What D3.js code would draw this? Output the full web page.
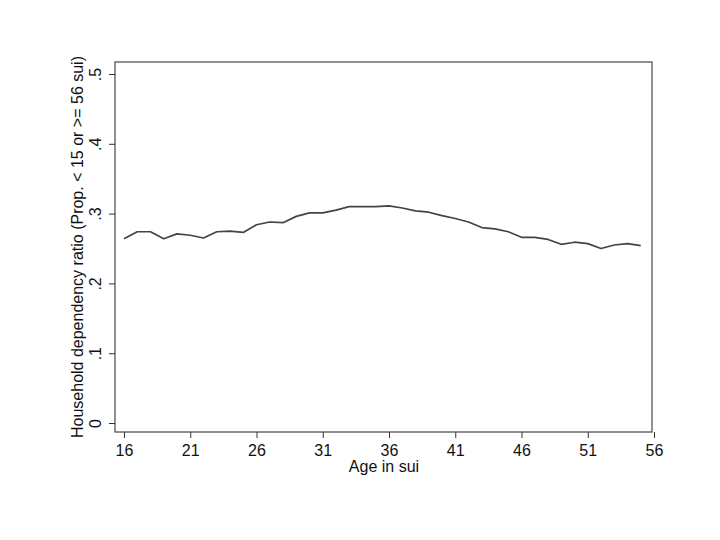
<!DOCTYPE html>
<html>
<head>
<meta charset="utf-8">
<script src="https://cdn.jsdelivr.net/npm/d3@7"></script>
<style>
  html, body { margin: 0; padding: 0; background: #fff; }
  svg { display: block; font-family: "Liberation Sans", Arial, sans-serif; }
</style>
</head>
<body>
<svg id="chart" width="720" height="540"></svg>
<script>
const ages = [16,17,18,19,20,21,22,23,24,25,26,27,28,29,30,31,32,33,34,35,
              36,37,38,39,40,41,42,43,44,45,46,47,48,49,50,51,52,53,54,55];
const ratio = [0.264,0.274,0.274,0.264,0.271,0.269,0.265,0.274,0.275,0.273,
               0.284,0.288,0.287,0.296,0.301,0.301,0.305,0.310,0.310,0.310,
               0.311,0.308,0.304,0.302,0.297,0.293,0.288,0.280,0.278,0.274,
               0.266,0.266,0.263,0.256,0.259,0.257,0.250,0.255,0.257,0.254];
const xTicks = [16,21,26,31,36,41,46,51,56];
const yTicks = [0,0.1,0.2,0.3,0.4,0.5];
const yTickLabels = ["0",".1",".2",".3",".4",".5"];
const xTitle = "Age in sui";
const yTitle = "Household dependency ratio (Prop. < 15 or >= 56 sui)";

const svg = d3.select("#chart");
const box = {left: 115, right: 652, top: 62, bottom: 432};

const x = d3.scaleLinear().domain([16, 56]).range([124, 654]);
const y = d3.scaleLinear().domain([0, 0.5]).range([423, 74]);

// plot box
svg.append("rect")
  .attr("x", box.left).attr("y", box.top)
  .attr("width", box.right - box.left).attr("height", box.bottom - box.top)
  .attr("fill", "none").attr("stroke", "#555").attr("stroke-width", 1.3);

// x axis
const xAxis = d3.axisBottom(x).tickValues(xTicks).tickFormat(d3.format("d"))
  .tickSize(6).tickPadding(7);
const gx = svg.append("g").attr("transform", `translate(0,${box.bottom})`).call(xAxis);
gx.select(".domain").remove();
gx.selectAll(".tick line").attr("stroke", "#333").attr("stroke-width", 1);
gx.selectAll(".tick text").attr("font-size", 16).attr("fill", "#111")
  .attr("font-family", "Liberation Sans, Arial, sans-serif");

// y axis
const yAxis = d3.axisLeft(y).tickValues(yTicks)
  .tickFormat((d, i) => yTickLabels[i]).tickSize(6).tickPadding(0);
const gy = svg.append("g").attr("transform", `translate(${box.left},0)`).call(yAxis);
gy.select(".domain").remove();
gy.selectAll(".tick line").attr("stroke", "#333").attr("stroke-width", 1);
gy.selectAll(".tick text")
  .attr("font-size", 16).attr("fill", "#111")
  .attr("font-family", "Liberation Sans, Arial, sans-serif")
  .attr("text-anchor", "middle").attr("dy", null)
  .attr("x", 0).attr("y", 0)
  .attr("transform", "translate(-14,0) rotate(-90)");

// line
const line = d3.line().x((d, i) => x(ages[i])).y(d => y(d));
svg.append("path")
  .datum(ratio)
  .attr("d", line)
  .attr("fill", "none")
  .attr("stroke", "#444")
  .attr("stroke-width", 1.7)
  .attr("stroke-linejoin", "round");

// titles
svg.append("text")
  .attr("x", 384).attr("y", 472)
  .attr("text-anchor", "middle")
  .attr("font-size", 16).attr("fill", "#111")
  .text(xTitle);

svg.append("text")
  .attr("transform", "translate(83,247) rotate(-90)")
  .attr("text-anchor", "middle")
  .attr("font-size", 16).attr("fill", "#111")
  .text(yTitle);
</script>
</body>
</html>
